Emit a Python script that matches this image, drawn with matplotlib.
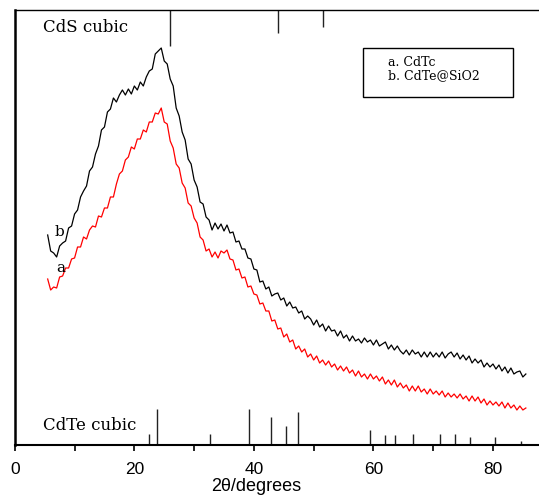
import numpy as np
import matplotlib
matplotlib.use('Agg')
from matplotlib import pyplot as plt
from matplotlib.patches import Rectangle
from matplotlib.ticker import MultipleLocator

# 2theta grid of the digitised patterns (5.5 .. 85.5 deg, 0.5 deg step)
two_theta = np.arange(5.5, 85.75, 0.5)

cdte_sio2 = [  # curve b (black)
    210, 194, 192, 188, 199, 202, 204, 217, 219, 231,
    235, 248, 254, 259, 274, 278, 291, 299, 315, 318,
    333, 336, 347, 343, 350, 355, 350, 356, 351, 359,
    355, 363, 359, 368, 374, 376, 391, 394, 397, 384,
    381, 366, 359, 337, 329, 313, 305, 286, 281, 265,
    258, 243, 241, 228, 225, 215, 222, 216, 221, 214,
    220, 212, 213, 203, 204, 196, 196, 187, 186, 176,
    175, 163, 164, 156, 158, 149, 151, 152, 145, 147,
    139, 143, 137, 138, 132, 134, 126, 129, 126, 120,
    125, 118, 121, 114, 119, 114, 115, 109, 114, 107,
    110, 104, 109, 104, 106, 102, 107, 103, 105, 100,
    105, 99, 101, 103, 96, 100, 95, 99, 94, 91,
    95, 90, 95, 91, 93, 88, 93, 88, 93, 88,
    92, 88, 93, 87, 91, 93, 88, 92, 86, 90,
    85, 89, 82, 86, 82, 85, 78, 82, 78, 81,
    76, 80, 74, 78, 72, 77, 71, 73, 74, 68,
    71]

cdte = [  # curve a (red)
    166, 155, 158, 157, 168, 169, 177, 177, 186, 187,
    198, 198, 208, 206, 215, 219, 218, 229, 228, 237,
    237, 248, 248, 261, 271, 274, 285, 288, 298, 296,
    306, 306, 315, 313, 323, 323, 332, 331, 337, 323,
    321, 304, 297, 281, 277, 262, 257, 242, 239, 227,
    222, 208, 205, 194, 196, 188, 193, 187, 194, 192,
    195, 186, 185, 175, 176, 167, 168, 158, 159, 151,
    150, 141, 142, 134, 134, 124, 125, 116, 117, 108,
    111, 103, 105, 96, 99, 93, 96, 88, 91, 85,
    89, 82, 85, 80, 84, 78, 81, 75, 79, 74,
    78, 72, 75, 69, 74, 68, 71, 66, 71, 66,
    69, 64, 68, 61, 65, 60, 65, 58, 62, 57,
    60, 54, 59, 54, 59, 53, 56, 51, 56, 51,
    54, 50, 54, 48, 52, 48, 51, 47, 51, 46,
    49, 44, 49, 44, 48, 42, 46, 40, 44, 40,
    43, 39, 43, 37, 42, 37, 40, 35, 39, 35,
    37]

# reference sticks
cds_pos = [26.0, 44.0, 51.6]
cds_len = [36, 23, 16.5]
cdte_pos = [22.4, 23.8, 32.7, 39.2, 42.8, 45.4, 47.3, 59.4, 62.0, 63.6,
            66.6, 71.2, 73.6, 76.2, 80.3, 84.7]
cdte_len = [11, 36, 11, 36, 28, 19, 33, 15, 10, 10,
            11, 11, 11, 8, 8, 4]

YTOP = 435

fig = plt.figure(figsize=(5.39, 4.95), dpi=100)
ax = fig.add_axes([14.8 / 539, 50 / 495, 1 - 14.8 / 539, 435 / 495])

ax.plot(two_theta, cdte_sio2, color='black', linewidth=0.9)
ax.plot(two_theta, cdte, color='#ff0000', linewidth=0.9)

ax.vlines(cds_pos, [YTOP - l for l in cds_len], YTOP, color='#222222', linewidth=1)
ax.vlines(cdte_pos, 0, cdte_len, color='#222222', linewidth=1)

ax.set_xlim(0, 87.7)
ax.set_ylim(0, YTOP)

serif = 'DejaVu Serif'
ax.text(4.7, 418, 'CdS cubic', family=serif, fontsize=12, va='center')
ax.text(4.7, 20, 'CdTe cubic', family=serif, fontsize=12, va='center')
ax.text(6.6, 213, 'b', family=serif, fontsize=11, va='center')
ax.text(7.0, 177, 'a', family=serif, fontsize=11, va='center')

# legend box
ax.add_patch(Rectangle((0.664, 0.800), 0.286, 0.113, transform=ax.transAxes,
                       fill=False, edgecolor='black', linewidth=1))
ax.text(0.712, 0.880, 'a. CdTc', transform=ax.transAxes, family=serif,
        fontsize=9, va='center')
ax.text(0.712, 0.848, 'b. CdTe@SiO2', transform=ax.transAxes, family=serif,
        fontsize=9, va='center')

ax.spines['right'].set_visible(False)
ax.spines['left'].set_linewidth(1.8)
ax.spines['bottom'].set_linewidth(1.5)
ax.spines['top'].set_linewidth(1.0)

ax.xaxis.set_major_locator(MultipleLocator(20))
ax.xaxis.set_minor_locator(MultipleLocator(10))
ax.tick_params(axis='x', which='both', direction='out', length=4, width=1.2,
               pad=8, labelsize=12.5)
ax.set_yticks([])
for lab in ax.get_xticklabels():
    lab.set_family('Liberation Sans')

fig.text(256 / 539, 1 - 478 / 495, '2\u03b8/degrees', family='Liberation Sans',
         fontsize=13, ha='center', va='top')

fig.savefig('out.png', dpi=100)
